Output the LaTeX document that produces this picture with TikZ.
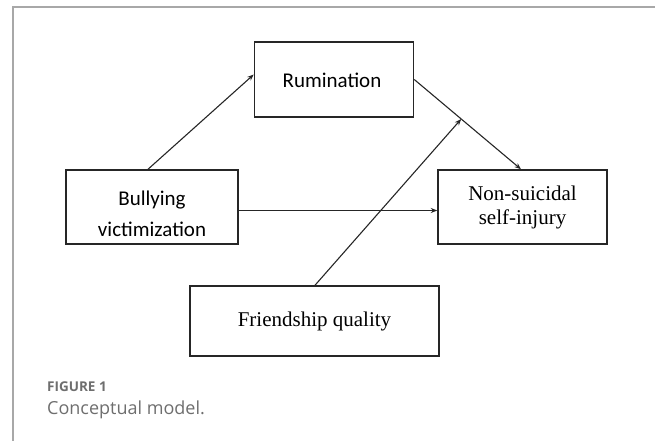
\documentclass[tikz,border=0pt]{standalone}
\usepackage{fontspec}
\setmainfont{Liberation Serif}
\newfontfamily\calib{Carlito}
\newfontfamily\capfont{Open Sans}
\usetikzlibrary{arrows.meta}
\definecolor{framegray}{HTML}{A8A8A8}
\definecolor{capgray}{HTML}{6E6E6E}
\tikzset{
  box/.style={draw=black!85, line width=1.5pt, inner sep=0pt, align=center},
  conn/.style={draw=black!85, line width=1.1pt, -{Stealth[length=6.5pt,width=5pt]}},
  sanslabel/.style={font=\calib\fontsize{21}{31}\selectfont, align=center, inner sep=0pt},
  seriflabel/.style={font=\fontsize{21}{24}\selectfont}
}
\begin{document}
\begin{tikzpicture}[x=1pt,y=-1pt]
\useasboundingbox (0,0) rectangle (655,441);
% frame
\draw[framegray, line width=1.3pt] (13,441) -- (13,7) -- (655,7);
% nodes
\node[box, minimum width=159pt, minimum height=75pt] (rum) at (334,79.5) {};
\node[sanslabel] (rumtxt) at (332,80.5) {Rumination};
\node[box, minimum width=172pt, minimum height=74pt] (bul) at (152,207) {};
\node[sanslabel] (bultxt) at (152,214) {Bullying\\victimization};
\node[box, seriflabel, minimum width=169pt, minimum height=74pt] (nssi) at (522.5,207) {Non-suicidal\\self-injury};
\node[box, seriflabel, minimum width=249pt, minimum height=70pt] (fq) at (314.5,321) {Friendship quality};
% connectors
\draw[conn] ([xshift=-4pt]bul.north) -- ([yshift=5pt]rum.west);
\draw[conn] (rum.east) -- ([xshift=-1.5pt]nssi.north) coordinate[pos=0.44] (mod);
\draw[conn] ([yshift=-3.5pt]bul.east) -- ([yshift=-3.5pt]nssi.west);
\draw[conn] ([xshift=0.5pt]fq.north) -- (mod);
% caption
\node[anchor=base west, inner sep=0pt, text=capgray, font=\capfont\bfseries\fontsize{13.5}{16}\selectfont] (figlab) at (47,391) {FIGURE 1};
\node[anchor=base west, inner sep=0pt, text=capgray, font=\capfont\fontsize{18}{22}\selectfont] (figcap) at (47,414) {Conceptual model.};
\end{tikzpicture}
\end{document}
